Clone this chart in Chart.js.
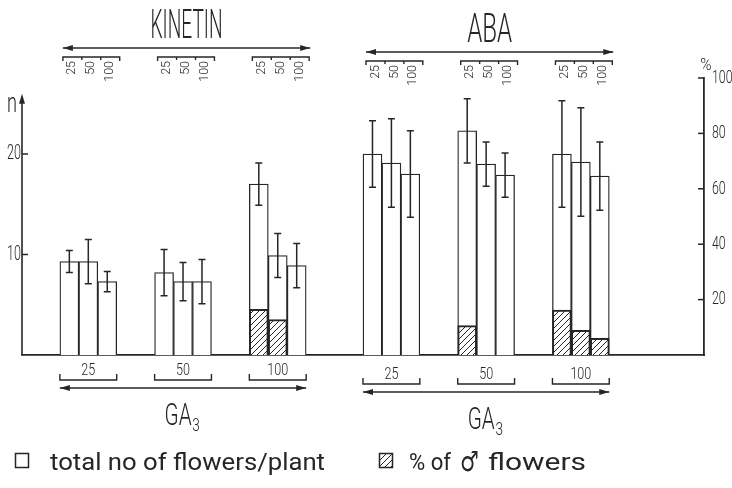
<!DOCTYPE html>
<html>
<head>
<meta charset="utf-8">
<script src="https://cdn.jsdelivr.net/npm/chart.js@4.4.1/dist/chart.umd.min.js"></script>
<style>
    html, body { margin: 0; padding: 0; background: #fff; }
</style>
</head>
<body>
<canvas id="grafico" width="732" height="488"></canvas>
<script>
'use strict';

// ─── Datos ────────────────────────────────────────────────────────────────────
const BLOCKS    = ['KINETIN', 'ABA'];
const GA3_DOSES = ['25', '50', '100'];
const SUB_DOSES = ['25', '50', '100'];   // dosis de kinetin / ABA dentro de cada grupo GA3

// n total de flores por planta — GA3 25 | 50 | 100, cada uno × 25, 50, 100
const kinetinTotal = [9.3, 9.3, 7.3,   8.2, 7.3, 7.3,   17.0, 9.9, 8.9];
const kinetinErr   = [1.1, 2.2, 1.0,   2.3, 1.9, 2.2,   2.1, 2.2, 2.2];
const kinetinMale  = [null, null, null, null, null, null, 16.5, 12.8, null];   // % flores ♂

const abaTotal = [20.0, 19.1, 18.0,   22.3, 19.0, 17.9,   20.0, 19.2, 17.8];
const abaErr   = [3.3, 4.4, 4.3,      3.2, 2.2, 2.2,      5.3, 5.4, 3.4];
const abaMale  = [null, null, null,   10.6, null, null,   16.2, 8.9, 6.0];

const N_TICKS   = [10, 20];
const PCT_TICKS = [20, 40, 60, 80, 100];

// ─── Estilo / layout ──────────────────────────────────────────────────────────
const INK  = '#262626';
const FONT = 'Roboto, "DejaVu Sans", sans-serif';
const N_MAX   = 27.56;        // escala n alineada con 0–100 %
const N_ARROW = 25.7;         // punta de la flecha del eje n
const LEAD = 2, GROUP_GAP = 2, BLOCK_GAP = 3, TRAIL = 5;   // huecos (en barras)
const DY = [0, 4];            // el bloque ABA está algo más abajo en el original

const TOTALS = [kinetinTotal, abaTotal];
const ERRORS = [kinetinErr, abaErr];
const MALES  = [kinetinMale, abaMale];

// ─── Slots del eje x ──────────────────────────────────────────────────────────
const slots = [];
function hueco(k) { for (let i = 0; i < k; i++) slots.push(null); }
hueco(LEAD);
BLOCKS.forEach(function (bl, b) {
    if (b > 0) hueco(BLOCK_GAP);
    GA3_DOSES.forEach(function (ga, g) {
        if (g > 0) hueco(GROUP_GAP);
        SUB_DOSES.forEach(function (d, k) {
            slots.push({ block: b, ga: g, dose: k, i: g * 3 + k });
        });
    });
});
hueco(TRAIL);

const labels    = slots.map(function (s) { return s ? BLOCKS[s.block] + ' ' + SUB_DOSES[s.dose] + ' / GA3 ' + GA3_DOSES[s.ga] : ''; });
const totalData = slots.map(function (s) { return s ? TOTALS[s.block][s.i] : null; });
const maleData  = slots.map(function (s) { return s ? MALES[s.block][s.i] : null; });

// ─── Utils ────────────────────────────────────────────────────────────────────
function rayado() {
    const c = document.createElement('canvas');
    c.width = 6; c.height = 6;
    const g = c.getContext('2d');
    g.strokeStyle = INK; g.lineWidth = 1;
    g.beginPath();
    g.moveTo(0, 6); g.lineTo(6, 0);
    g.moveTo(-1, 1); g.lineTo(1, -1);
    g.moveTo(5, 7); g.lineTo(7, 5);
    g.stroke();
    return g.createPattern(c, 'repeat');
}
const HATCH = rayado();

// texto estrecho: o se ajusta a un ancho, o se escala con sx
function texto(ctx, txt, x, y, size, o) {
    o = o || {};
    ctx.save();
    ctx.font = (o.weight || 300) + ' ' + size + 'px ' + (o.font || FONT);
    let sx = o.sx || 1;
    if (o.ancho) sx = o.ancho / ctx.measureText(txt).width;
    ctx.translate(x, y);
    if (o.rot) ctx.rotate(o.rot);
    ctx.scale(sx, 1);
    ctx.textAlign = o.align || 'center';
    ctx.textBaseline = o.base || 'alphabetic';
    ctx.fillStyle = INK;
    ctx.fillText(txt, 0, 0);
    ctx.restore();
}

function flecha(ctx, x1, x2, y) {
    ctx.beginPath();
    ctx.moveTo(x1, y); ctx.lineTo(x2, y);
    ctx.stroke();
    [[x1, 1], [x2, -1]].forEach(function (p) {
        ctx.beginPath();
        ctx.moveTo(p[0], y);
        ctx.lineTo(p[0] + p[1] * 10, y - 3);
        ctx.lineTo(p[0] + p[1] * 10, y + 3);
        ctx.closePath();
        ctx.fill();
    });
}

function grupo(chart, b, g) {
    const meta = chart.getDatasetMeta(1);
    const bars = [];
    slots.forEach(function (s, i) {
        if (s && s.block === b && s.ga === g) bars.push(meta.data[i]);
    });
    const w = bars[0].width;
    return { left: bars[0].x - w / 2, right: bars[bars.length - 1].x + w / 2, bars: bars, w: w };
}

// ─── Plugin barras de error ───────────────────────────────────────────────────
const errorBars = {
    id: 'errorBars',
    afterDatasetsDraw: function (chart) {
        const meta = chart.getDatasetMeta(1);
        const y = chart.scales.y;
        const ctx = chart.ctx;
        ctx.save();
        ctx.strokeStyle = INK;
        ctx.lineWidth = 1.5;
        slots.forEach(function (s, i) {
            if (!s) return;
            const v = TOTALS[s.block][s.i], e = ERRORS[s.block][s.i];
            const x = meta.data[i].x;
            const y1 = y.getPixelForValue(v + e), y2 = y.getPixelForValue(v - e);
            ctx.beginPath();
            ctx.moveTo(x, y1); ctx.lineTo(x, y2);
            ctx.moveTo(x - 3.5, y1); ctx.lineTo(x + 3.5, y1);
            ctx.moveTo(x - 3.5, y2); ctx.lineTo(x + 3.5, y2);
            ctx.stroke();
        });
        ctx.restore();
    }
};

// ─── Plugin rótulos, flechas, ejes y leyenda ──────────────────────────────────
const rotulos = {
    id: 'rotulos',
    afterDraw: function (chart) {
        const ctx = chart.ctx;
        const area = chart.chartArea;
        const yN = chart.scales.y, yP = chart.scales.y2;
        ctx.save();
        ctx.strokeStyle = INK;
        ctx.fillStyle = INK;
        ctx.lineWidth = 1.6;

        // eje n con flecha
        const top = yN.getPixelForValue(N_ARROW);
        ctx.beginPath();
        ctx.moveTo(area.left, area.bottom); ctx.lineTo(area.left, top + 4);
        ctx.stroke();
        ctx.beginPath();
        ctx.moveTo(area.left, top - 3);
        ctx.lineTo(area.left - 3, top + 7);
        ctx.lineTo(area.left + 3, top + 7);
        ctx.closePath(); ctx.fill();
        texto(ctx, 'n', area.left - 10, top + 15, 28, { ancho: 10 });
        texto(ctx, '%', area.right + 2, area.top - 8, 17, { sx: 0.9 });

        // marcas y etiquetas de ticks (hacia dentro)
        ctx.lineWidth = 1.5;
        yN.ticks.forEach(function (t) {
            const py = yN.getPixelForValue(t.value);
            ctx.beginPath(); ctx.moveTo(area.left, py); ctx.lineTo(area.left + 6, py); ctx.stroke();
            texto(ctx, String(t.value), area.left - 1, py, 21, { sx: 0.6, align: 'right', base: 'middle' });
        });
        yP.ticks.forEach(function (t) {
            const py = yP.getPixelForValue(t.value);
            ctx.beginPath(); ctx.moveTo(area.right - 6, py); ctx.lineTo(area.right, py); ctx.stroke();
            texto(ctx, String(t.value), area.right + 8, py, 19, { sx: 0.65, align: 'left', base: 'middle' });
        });
        ctx.lineWidth = 1.6;

        BLOCKS.forEach(function (bl, b) {
            const dy = DY[b];
            const g0 = grupo(chart, b, 0), g2 = grupo(chart, b, GA3_DOSES.length - 1);

            // arriba: nombre + flecha
            const ax1 = g0.left + 3, ax2 = g2.right + 4;
            flecha(ctx, ax1, ax2, 48 + dy);
            texto(ctx, bl, (ax1 + ax2) / 2, 38 + dy, 41, { ancho: bl.length > 3 ? 72 : 45 });

            // abajo: flecha GA3
            flecha(ctx, g0.left, g2.right, 388 + dy);
            const gx = (g0.left + g2.right) / 2;
            texto(ctx, 'GA', gx - 5, 425 + dy, 32, { ancho: 27 });
            texto(ctx, '3', gx + 13, 431 + dy, 18, { sx: 0.75 });

            GA3_DOSES.forEach(function (ga, g) {
                const gr = grupo(chart, b, g);
                // corchete superior + dosis rotadas
                const yt = 57 + dy;
                ctx.lineWidth = 1.4;
                ctx.beginPath();
                ctx.moveTo(gr.left + 3, yt + 4); ctx.lineTo(gr.left + 3, yt);
                ctx.lineTo(gr.right + 3, yt); ctx.lineTo(gr.right + 3, yt + 4);
                gr.bars.slice(1).forEach(function (bar) {
                    ctx.moveTo(bar.x - gr.w / 2 + 3, yt); ctx.lineTo(bar.x - gr.w / 2 + 3, yt + 3);
                });
                ctx.stroke();
                gr.bars.forEach(function (bar, k) {
                    texto(ctx, SUB_DOSES[k], bar.x + 3, yt + 4, 12.5, { align: 'right', base: 'middle', rot: -Math.PI / 2 });
                });

                // corchete inferior + dosis GA3
                const yb = 380 + dy;
                ctx.beginPath();
                ctx.moveTo(gr.left, yb - 6); ctx.lineTo(gr.left, yb);
                ctx.lineTo(gr.right, yb); ctx.lineTo(gr.right, yb - 6);
                ctx.stroke();
                texto(ctx, ga, (gr.left + gr.right) / 2, 375 + dy, 17, { sx: 0.74 });
                ctx.lineWidth = 1.6;
            });
        });

        // leyenda
        ctx.lineWidth = 1.5;
        ctx.strokeRect(15.5, 453.5, 13, 14);
        texto(ctx, 'total no of flowers/plant', 50, 470, 24, { ancho: 275, align: 'left', weight: 400 });
        ctx.fillStyle = HATCH;
        ctx.fillRect(379, 453, 14, 14);
        ctx.strokeRect(379.5, 453.5, 13, 14);
        texto(ctx, '% of', 409, 470, 24, { ancho: 42, align: 'left', weight: 400 });
        texto(ctx, '\u2642', 460, 471, 28, { ancho: 19, align: 'left', weight: 400, font: '"DejaVu Sans", sans-serif' });
        texto(ctx, 'flowers', 488, 470, 24, { ancho: 98, align: 'left', weight: 400 });
        ctx.restore();
    }
};

// ─── Gráfico ──────────────────────────────────────────────────────────────────
new Chart(document.getElementById('grafico'), {
    type: 'bar',
    data: {
        labels: labels,
        datasets: [
            {
                label: '% of \u2642 flowers',
                data: maleData,
                yAxisID: 'y2',
                backgroundColor: HATCH,
                borderColor: INK,
                borderWidth: 1.3,
                grouped: false,
                order: 1,
            },
            {
                label: 'total no of flowers/plant',
                data: totalData,
                yAxisID: 'y',
                backgroundColor: '#ffffff',
                borderColor: INK,
                borderWidth: 1.3,
                grouped: false,
                order: 2,
            },
        ],
    },
    options: {
        responsive: false,
        animation: false,
        devicePixelRatio: 1,
        barPercentage: 1,
        categoryPercentage: 1,
        layout: { padding: { top: 78, bottom: 133, left: 0, right: 0 } },
        plugins: {
            legend: { display: false },
            tooltip: { enabled: false },
        },
        scales: {
            x: {
                ticks: { display: false },
                grid: { display: false },
                border: { display: true, color: INK, width: 1.8 },
                afterFit: function (s) { s.height = 0; },
            },
            y: {
                position: 'left',
                min: 0,
                max: N_MAX,
                afterBuildTicks: function (s) { s.ticks = N_TICKS.map(function (v) { return { value: v }; }); },
                afterFit: function (s) { s.width = 22; },
                ticks: { display: false },
                grid: { display: false },
                border: { display: false },
            },
            y2: {
                position: 'right',
                min: 0,
                max: 100,
                afterBuildTicks: function (s) { s.ticks = PCT_TICKS.map(function (v) { return { value: v }; }); },
                afterFit: function (s) { s.width = 28; },
                ticks: { display: false },
                grid: { display: false },
                border: { display: true, color: INK, width: 1.8 },
            },
        },
    },
    plugins: [errorBars, rotulos],
});
</script>
</body>
</html>
